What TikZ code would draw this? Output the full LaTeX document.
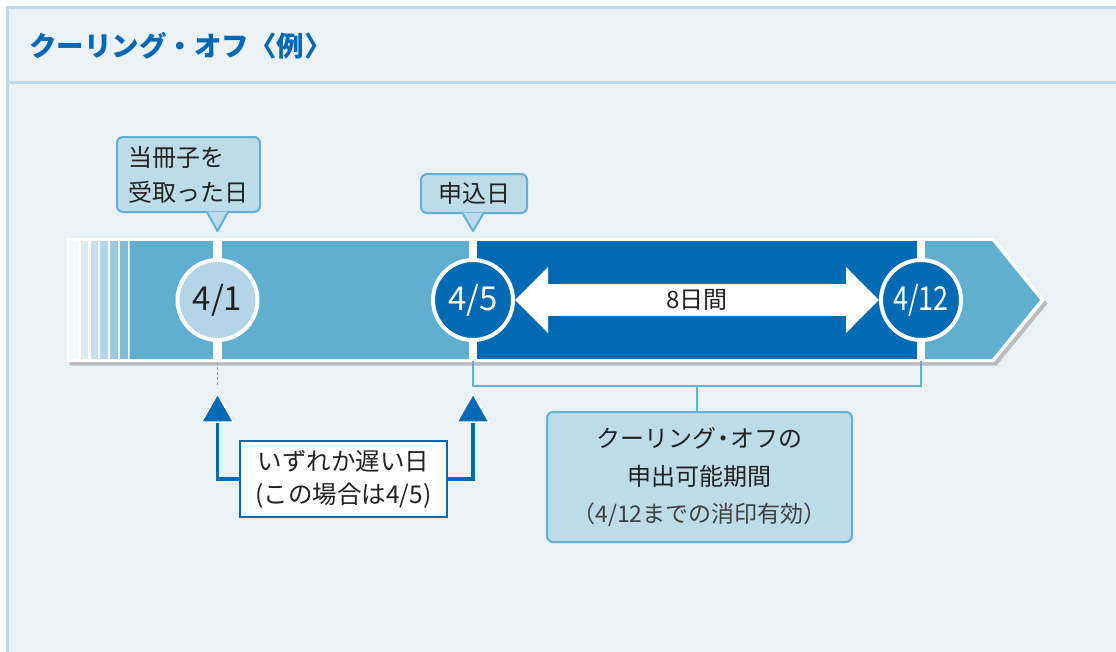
\documentclass[tikz,border=0pt]{standalone}
\usepackage{fontspec}
\setmainfont{Noto Sans CJK JP}
\usetikzlibrary{arrows.meta,calc}
\definecolor{panelbg}{HTML}{EAF2F6}
\definecolor{panelline}{HTML}{BCD9EB}
\definecolor{titleblue}{HTML}{0068B7}
\definecolor{barlight}{HTML}{5FAFD0}
\definecolor{bardark}{HTML}{006AB5}
\definecolor{circlelight}{HTML}{B4D5E7}
\definecolor{callfill}{HTML}{BEDBEA}
\definecolor{callline}{HTML}{62B0D4}
\definecolor{txt}{HTML}{222222}
\definecolor{sA}{HTML}{F5F9FC}
\definecolor{sB}{HTML}{DCEAF2}
\definecolor{sC}{HTML}{C8E0ED}
\definecolor{sD}{HTML}{B2D5E7}
\definecolor{sE}{HTML}{9BC9E1}
\definecolor{sF}{HTML}{80BCDA}
\newcommand{\nakaguro}{\kern-0.22em・\kern-0.22em}
\tikzset{
  datecircle/.style={circle, minimum size=80pt, inner sep=0pt, draw=white, line width=4pt,
     font=\fontsize{33}{33}\selectfont},
  callbox/.style={rectangle, rounded corners=6pt, fill=callfill, draw=callline, line width=2pt,
     text=txt, align=center, font=\fontsize{24}{35}\selectfont, inner sep=0pt},
  bluebox/.style={rectangle, fill=white, draw=bardark, line width=2.5pt, text=txt, align=center,
     font=\fontsize{24.5}{33}\selectfont, inner sep=0pt},
  bracketline/.style={draw=callline, line width=2pt},
  upshaft/.style={draw=bardark, line width=3.5pt},
  uptip/.style={fill=bardark, draw=white, line width=1.5pt, line join=round}
}
\begin{document}
\begin{tikzpicture}[x=1pt,y=-1pt]
\useasboundingbox (0,0) rectangle (1116,651);
\fill[white] (0,0) rectangle (1116,651);
% panel
\fill[panelbg] (7.5,7.5) rectangle (1125,660);
\draw[panelline, line width=3pt] (7.5,660) -- (7.5,7.5) -- (1125,7.5);
\draw[panelline, line width=3pt] (7.5,82.5) -- (1125,82.5);
\node[anchor=west, text=titleblue, font=\fontsize{27.5}{30}\selectfont\bfseries, inner sep=0pt] (title) at (29,46) {クーリング・オフ〈例〉};

% bar shadow
\begin{scope}[shift={(2.5,3.5)}]
\fill[black!35, opacity=.7] (67,238) -- (994,238) -- (1045,300) -- (994,362) -- (67,362) -- cycle;
\end{scope}
% bar white outline
\fill[white] (67,238) -- (994,238) -- (1045,300) -- (994,362) -- (67,362) -- cycle;
% bar light fill
\fill[barlight] (129.5,241) -- (992,241) -- (1040,300) -- (992,359) -- (129.5,359) -- cycle;
% stripes
\fill[sA] (68.5,241) rectangle (78.5,359);
\fill[sB] (80.7,241) rectangle (88.3,359);
\fill[sC] (90.7,241) rectangle (97.9,359);
\fill[sD] (100.2,241) rectangle (107.7,359);
\fill[sE] (110,241) rectangle (117.5,359);
\fill[sF] (120,241) rectangle (127.5,359);
% dark segment
\fill[bardark] (477,241) rectangle (917,359);
% separators
\fill[white] (213,241) rectangle (222,359);
\fill[white] (468.5,241) rectangle (477,359);
\fill[white] (917,241) rectangle (925,359);

% circles
\node[datecircle, fill=circlelight, text=txt] (c41) at (217.5,300) {4/1};
\node[datecircle, fill=bardark, text=white] (c45) at (473,300) {4/5};
\node[datecircle, fill=bardark, text=white] (c412) at (921,300) {\scalebox{0.82}[1]{4/12}};

% double arrow
\draw[white, line width=32pt, {Triangle[length=33pt,width=64pt]}-{Triangle[length=33pt,width=64pt]}]
  (c45.east) -- (c412.west) node[midway, text=txt, font=\fontsize{24}{24}\selectfont] (span) {8日間};

% callout 1
\node[callbox, align=left, minimum width=143pt, minimum height=75pt] (cb1) at (188.5,174.5) {当冊子を\\受取った日};
\coordinate (p1) at (217.5,231);
\fill[callfill] ($(cb1.south)+(19,-1.5)$) -- (p1) -- ($(cb1.south)+(39,-1.5)$) -- cycle;
\draw[callline, line width=2pt, line join=round] ($(cb1.south)+(19,0)$) -- (p1) -- ($(cb1.south)+(39,0)$);
% callout 2
\node[callbox, minimum width=106pt, minimum height=39pt] (cb2) at (474,193.5) {申込日};
\coordinate (p2) at (473,231);
\fill[callfill] ($(cb2.south)+(-11,-1.5)$) -- (p2) -- ($(cb2.south)+(9,-1.5)$) -- cycle;
\draw[callline, line width=2pt, line join=round] ($(cb2.south)+(-11,0)$) -- (p2) -- ($(cb2.south)+(9,0)$);

% dashed under 4/1
\coordinate (d1) at (217.5,362);
\coordinate (d2) at (217.5,387);
\draw[black!35, line width=1.5pt, dash pattern=on 3pt off 2pt] (d1) -- (d2);

% bracket
\coordinate (bl) at (473,361);
\coordinate (br) at (921,361);
\coordinate (bm) at (697,386);
\draw[bracketline] (bl) |- (br |- bm) -- (br);
\node[callbox, minimum width=305pt, minimum height=130pt, font=\fontsize{24}{37.5}\selectfont] (period) at (699.5,477)
  {クーリング\nakaguro オフの\\申出可能期間\\{\fontsize{23}{23}\selectfont\color{black!75}（4/12までの消印有効）}};
\draw[bracketline] (bm) -- (period.north -| bm);

% later-date box and arrows
\node[bluebox, minimum width=207pt, minimum height=76pt] (later) at (343.5,479) {いずれか遅い日\\(この場合は4/5)};
\coordinate (t1) at (217.5,394);
\coordinate (t2) at (473,394);
\draw[upshaft] (later.west) -| ($(t1)+(0,26)$);
\draw[upshaft] (later.east) -| ($(t2)+(0,26)$);
\draw[uptip] (t1) -- ($(t1)+(16,28)$) -- ($(t1)+(-16,28)$) -- cycle;
\draw[uptip] (t2) -- ($(t2)+(16,28)$) -- ($(t2)+(-16,28)$) -- cycle;
\end{tikzpicture}
\end{document}
